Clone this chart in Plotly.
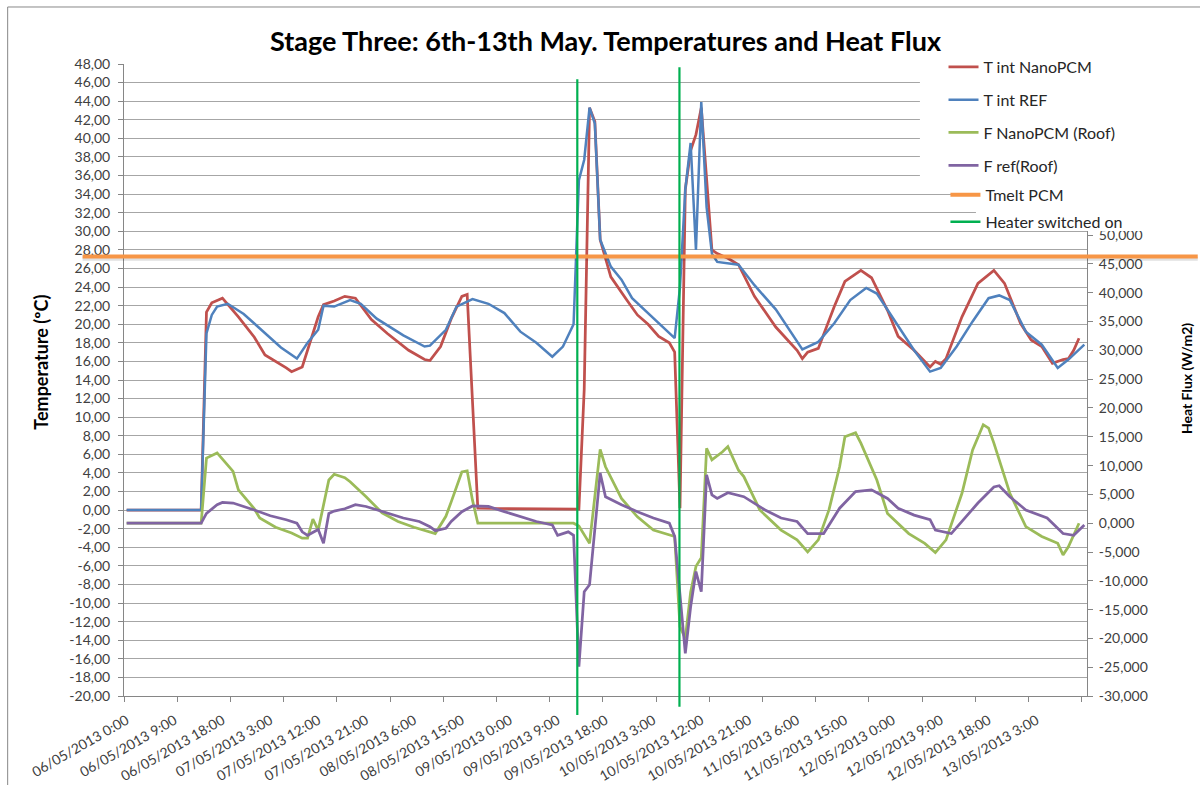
import plotly.graph_objects as go
import pandas as pd

# ---------------- data (hours after 06/05/2013 0:00) ----------------
start = pd.Timestamp("2013-05-06 00:00")

red_h = [0,14,15,16,18,21,24,26,30,31,33,36,37,39,41,43,46,49,53,56,57,59,61,63,64,66,85,86,87,88,
         89,90,91,94,96,98,100,102,103,104,105,106,107,108,109,110,111,113,115,118,122,124,126,127,128,130,
         133,135,138,140,143,145,148,151,152,153,154,157,160,163,165,168,170,172,174,176,177,178,179]
red_v = [0,0,21.3,22.3,22.8,20.8,18.6,16.7,15.3,14.9,15.4,20.8,22.1,22.5,23.0,22.8,20.5,19.0,17.2,16.2,
         16.1,17.6,20.6,23.0,23.2,0.2,0.1,13.0,43.3,41.8,29.1,27.1,25.1,22.6,21.0,20.0,18.7,18.0,17.0,0.2,
         34.5,38.7,40.4,43.3,35.2,28.0,27.6,27.1,26.4,23.0,19.7,18.5,17.2,16.3,17.0,17.4,21.9,24.6,25.8,25.0,
         21.5,18.7,17.2,15.4,16.0,15.7,16.3,20.8,24.4,25.8,24.4,20.1,18.3,17.6,15.8,16.2,16.3,17.2,18.5]

blue_h = [0,14,15,16,17,19,22,26,29,32,34,36,37,39,42,44,47,52,56,57,60,62,65,68,71,74,77,80,82,84,
          85,86,87,88,89,91,93,95,98,101,103,104,105,106,107,108,109,110,111,115,118,122,127,130,133,136,
          139,141,145,148,151,153,156,159,162,164,166,169,172,175,177,180]
blue_v = [0,0,19.0,21.0,21.9,22.2,21.1,19.0,17.5,16.3,18.0,19.4,22.0,21.9,22.6,22.2,20.6,18.8,17.6,17.7,
          19.4,21.9,22.7,22.2,21.2,19.2,18.0,16.5,17.6,20.0,35.5,37.7,43.3,41.6,29.1,26.2,24.8,22.8,21.2,19.5,
          18.5,24.0,34.5,39.5,28.0,43.9,32.6,27.6,26.7,26.4,24.2,21.6,17.3,18.1,20.1,22.6,23.9,23.3,19.8,17.2,
          14.9,15.3,17.6,20.3,22.8,23.1,22.6,19.2,17.8,15.3,16.2,17.8]

green_h = [0,14,15,17,20,21,24,25,28,31,33,34,35,36,38,39,41,42,45,48,51,54,58,60,61,63,64,65,66,84,
           85,87,89,90,93,96,99,101,103,104,105,106,107,108,109,110,112,113,115,116,119,123,126,128,130,132,
           134,135,137,138,141,143,147,150,152,154,157,159,161,162,163,166,169,172,175,176,177,179]
green_v = [0,0,11.3,12.2,9.0,5.8,2.5,0.9,-0.7,-1.7,-2.6,-2.6,0.7,-1.2,7.5,8.5,7.9,7.2,4.6,1.8,
           0.3,-0.7,-1.8,1.2,3.7,8.9,9.1,4.0,0,0,-0.5,-3.5,12.8,9.8,4.3,1.1,-1.2,-1.8,-2.3,-18.0,
           -20.0,-12.0,-7.5,-6.0,13.0,11.0,12.4,13.3,9.2,8.1,2.3,-1.2,-2.9,-5.0,-2.9,2.3,9.8,15.0,15.7,13.9,
           7.5,1.7,-1.8,-3.5,-5.1,-2.9,5.2,12.7,17.1,16.5,13.9,5.2,-0.6,-2.3,-3.5,-5.5,-4.1,0.0]

purple_h = [0,14,15,17,18,20,24,27,30,32,33,34,36,37,38,39,41,43,45,49,52,55,57,58,60,61,63,65,68,71,
            74,77,80,81,83,84,85,86,87,89,90,93,96,99,102,103,105,106,107,108,109,110,111,113,116,120,123,
            126,128,131,134,137,140,143,145,148,151,152,155,157,160,163,164,166,169,173,176,178,180]
purple_v = [0,0,1.7,3.2,3.6,3.5,2.3,1.3,0.6,0.0,-1.5,-2.1,-1.1,-3.5,1.7,2.1,2.5,3.2,2.9,1.7,
            0.9,0.3,-0.6,-1.3,-0.9,0.3,2.0,3.0,2.9,2.0,1.1,0.3,-0.3,-2.1,-1.5,-2.1,-24.9,-11.9,-10.7,8.7,
            4.6,3.2,2.0,0.9,0.0,-2.3,-22.6,-14.5,-8.4,-11.9,8.4,4.9,4.3,5.3,4.6,2.3,0.9,0.3,-1.8,-1.8,
            2.6,5.5,5.8,4.3,2.6,1.4,0.6,-1.2,-1.8,0.3,3.5,6.3,6.5,4.6,2.3,0.9,-1.8,-2.1,-0.3]

tmelt_pcm = 27.3
heater_on_h = [84.7, 103.9]

x_tick_h = [0,9,18,27,36,45,54,63,72,81,90,99,108,117,126,135,144,153,162,171]
x_tick_labels = ["06/05/2013 0:00","06/05/2013 9:00","06/05/2013 18:00","07/05/2013 3:00",
                 "07/05/2013 12:00","07/05/2013 21:00","08/05/2013 6:00","08/05/2013 15:00",
                 "09/05/2013 0:00","09/05/2013 9:00","09/05/2013 18:00","10/05/2013 3:00",
                 "10/05/2013 12:00","10/05/2013 21:00","11/05/2013 6:00","11/05/2013 15:00",
                 "12/05/2013 0:00","12/05/2013 9:00","12/05/2013 18:00","13/05/2013 3:00"]
temp_ticks = list(range(-20, 49, 2))
temp_labels = [f"{v:.2f}".replace(".", ",") for v in temp_ticks]
flux_ticks = list(range(-30, 51, 5))
flux_labels = [f"{v:.3f}".replace(".", ",") for v in flux_ticks]


def to_dates(hours):
    return [start + pd.Timedelta(hours=h) for h in hours]


FONT = "Lato"
AX = "#868686"
GRID = "#A6A6A6"

fig = go.Figure()
fig.add_trace(go.Scatter(x=to_dates(red_h), y=red_v, name="T int NanoPCM", mode="lines",
                         line=dict(color="#C0504D", width=2.75), legend="legend", legendgroup="a"))
fig.add_trace(go.Scatter(x=to_dates(blue_h), y=blue_v, name="T int REF", mode="lines",
                         line=dict(color="#4F81BD", width=2.5), legend="legend", legendgroup="b"))
fig.add_trace(go.Scatter(x=to_dates(green_h), y=green_v, name="F NanoPCM (Roof)", mode="lines",
                         line=dict(color="#9BBB59", width=2.75), yaxis="y2", legend="legend", legendgroup="c"))
fig.add_trace(go.Scatter(x=to_dates(purple_h), y=purple_v, name="F ref(Roof)", mode="lines",
                         line=dict(color="#8064A2", width=2.75), yaxis="y2", legend="legend", legendgroup="d"))
fig.add_trace(go.Scatter(x=[None], y=[None], name="Tmelt PCM", mode="lines",
                         line=dict(color="#F79646", width=4), legend="legend2", legendgroup="e"))
fig.add_trace(go.Scatter(x=[None], y=[None], name="Heater switched on", mode="lines",
                         line=dict(color="#00B050", width=2.5), legend="legend2", legendgroup="f"))

shapes = []
# Tmelt line (with soft shadow)
shapes.append(dict(type="line", xref="paper", yref="y", x0=-0.043, x1=1.115, y0=tmelt_pcm - 0.25,
                   y1=tmelt_pcm - 0.25, line=dict(color="rgba(0,0,0,0.12)", width=4), layer="above"))
shapes.append(dict(type="line", xref="paper", yref="y", x0=-0.043, x1=1.115, y0=tmelt_pcm,
                   y1=tmelt_pcm, line=dict(color="#F79646", width=4), layer="above"))
# heater lines
for h, (yb, yt) in zip(heater_on_h, [(-0.030, 0.976), (-0.017, 0.995)]):
    xd = start + pd.Timedelta(hours=h)
    shapes.append(dict(type="line", xref="x", yref="paper", x0=xd, x1=xd, y0=yb, y1=yt,
                       line=dict(color="#00B050", width=2.2), layer="above"))
# legend white boxes
shapes.append(dict(type="rect", xref="paper", yref="paper", x0=0.8265, x1=1.12, y0=0.8085, y1=1.03,
                   fillcolor="white", line=dict(width=0), layer="above"))
shapes.append(dict(type="rect", xref="paper", yref="paper", x0=0.8847, x1=1.12, y0=0.7358, y1=0.8090,
                   fillcolor="white", line=dict(width=0), layer="above"))
# chart border
shapes.append(dict(type="rect", xref="paper", yref="paper", x0=-0.1208, x1=1.2, y0=-0.2, y1=1.0902,
                   fillcolor="rgba(0,0,0,0)", line=dict(color="#888888", width=1), layer="above"))

annotations = [
    dict(text="<b>Temperature (ºC)</b>", xref="paper", yref="paper", x=-0.0865, y=0.5285,
         xanchor="center", yanchor="middle",
         textangle=-90, showarrow=False, font=dict(family=FONT, size=18, color="black")),
    dict(text="<b>Heat Flux (W/m2)</b>", xref="paper", yref="paper", x=1.1039, y=0.5016,
         xanchor="center", yanchor="middle",
         textangle=-90, showarrow=False, font=dict(family=FONT, size=14, color="black")),
]

fig.update_layout(
    width=1200, height=785,
    margin=dict(l=124.3, r=113, t=64, b=89, autoexpand=False),
    paper_bgcolor="white", plot_bgcolor="white",
    title=dict(text="<b>Stage Three: 6th-13th May. Temperatures and Heat Flux</b>",
               x=0.5, xref="paper", xanchor="center", y=1 - 42 / 785, yanchor="middle",
               font=dict(family=FONT, size=27, color="black")),
    font=dict(family=FONT, color="#404040"),
    xaxis=dict(type="date", automargin=False,
               range=[start - pd.Timedelta(minutes=30), start + pd.Timedelta(hours=180.5)],
               tickmode="array", tickvals=to_dates(x_tick_h), ticktext=x_tick_labels,
               tickangle=-30, ticks="", showgrid=False, zeroline=False, ticklabelstandoff=10,
               showline=True, linecolor=AX, linewidth=1,
               tickfont=dict(family=FONT, size=14, color="#404040"),
               minor=dict(ticks="outside", ticklen=5, tickcolor=AX, tickwidth=1, tickmode="linear",
                          tick0=start - pd.Timedelta(minutes=30), dtick=36000000, showgrid=False)),
    yaxis=dict(range=[-20, 48], tickmode="array", tickvals=temp_ticks, ticktext=temp_labels,
               automargin=False,
               showgrid=True, gridcolor=GRID, gridwidth=1, zeroline=False, ticklabelstandoff=5,
               showline=True, linecolor=AX, ticks="outside", ticklen=5, tickcolor=AX,
               tickfont=dict(family=FONT, size=14, color="#404040")),
    yaxis2=dict(overlaying="y", side="right", range=[-30, 79.72], tickmode="array",
                automargin=False,
                tickvals=flux_ticks, ticktext=flux_labels, showgrid=False, zeroline=False,
                showline=True, linecolor=AX, ticks="outside", ticklen=5, tickcolor=AX,
                ticklabelstandoff=3,
                tickfont=dict(family=FONT, size=14, color="#404040")),
    legend=dict(x=0.851, xanchor="left", y=1.0222, yanchor="top", bgcolor="rgba(0,0,0,0)",
                font=dict(family=FONT, size=16, color="#262626"), traceorder="grouped",
                tracegroupgap=9),
    legend2=dict(x=0.853, xanchor="left", y=0.8197, yanchor="top", bgcolor="rgba(0,0,0,0)",
                 font=dict(family=FONT, size=16, color="#262626"), traceorder="grouped",
                 tracegroupgap=3),
    shapes=shapes,
    annotations=annotations,
    showlegend=True,
)

fig.write_html("out.html", config={"displayModeBar": False},
               post_script="document.body.style.margin='0';")
